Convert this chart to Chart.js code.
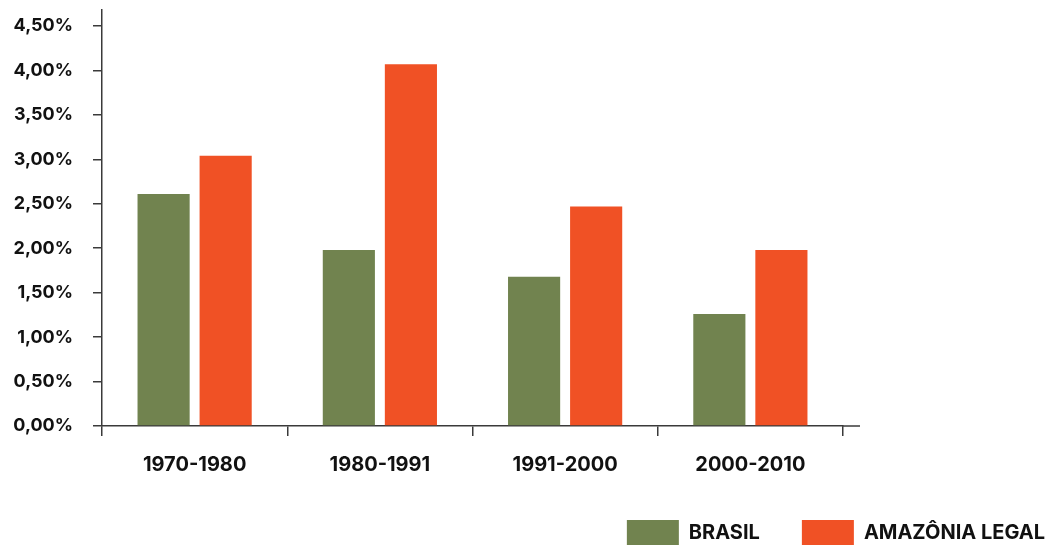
<!DOCTYPE html>
<html lang="pt-BR">
<head>
<meta charset="utf-8">
<title>Taxa de crescimento populacional</title>
<script src="https://cdn.jsdelivr.net/npm/chart.js@4/dist/chart.umd.min.js"></script>
<style>
  html, body { margin: 0; padding: 0; background: #fff; overflow: hidden; }
  #wrap { width: 1087px; height: 556px; position: relative; }
</style>
</head>
<body>
<div id="wrap"><canvas id="chart"></canvas></div>
<script>
// Periods and average annual growth rates (%)
const periods = ['1970-1980', '1980-1991', '1991-2000', '2000-2010'];
const brasil = [2.61, 1.98, 1.68, 1.26];
const amazoniaLegal = [3.04, 4.07, 2.47, 1.98];
const seriesNames = ['BRASIL', 'AMAZÔNIA LEGAL'];
const yTickValues = [0, 0.5, 1, 1.5, 2, 2.5, 3, 3.5, 4, 4.5];

const GREEN = '#71834F';
const ORANGE = '#F05125';
const AXIS = '#3a3a3a';
const TEXT = '#111111';
const Y_FONT = { family: 'Inter', weight: '700', size: 18 };
const X_FONT = { family: 'Inter', weight: '700', size: 20 };

const fmtPct = v => v.toFixed(2).replace('.', ',') + '%';

// Extends the x axis line a little past the last category boundary
const axisTail = {
  id: 'axisTail',
  afterDraw(chart) {
    const { ctx, chartArea } = chart;
    ctx.save();
    ctx.strokeStyle = AXIS;
    ctx.lineWidth = 1.5;
    ctx.beginPath();
    ctx.moveTo(chartArea.right - 1, chartArea.bottom);
    ctx.lineTo(chartArea.right + 17, chartArea.bottom);
    ctx.stroke();
    ctx.restore();
  }
};

new Chart(document.getElementById('chart'), {
  type: 'bar',
  data: {
    labels: periods,
    datasets: [
      { label: seriesNames[0], data: brasil, backgroundColor: GREEN, borderWidth: 0 },
      { label: seriesNames[1], data: amazoniaLegal, backgroundColor: ORANGE, borderWidth: 0 }
    ]
  },
  options: {
    responsive: true,
    maintainAspectRatio: false,
    devicePixelRatio: 1,
    animation: false,
    categoryPercentage: 0.67,
    barPercentage: 0.84,
    layout: { padding: { top: 10, left: 0, right: 0, bottom: 0 } },
    plugins: {
      tooltip: { enabled: false },
      legend: {
        position: 'bottom',
        align: 'end',
        labels: {
          boxWidth: 52,
          boxHeight: 26,
          padding: 42,
          color: TEXT,
          font: X_FONT
        }
      }
    },
    scales: {
      x: {
        grid: { drawOnChartArea: false, tickLength: 10, color: AXIS, lineWidth: 1.5, offset: true },
        border: { color: AXIS, width: 1.5 },
        ticks: { color: TEXT, font: X_FONT, padding: 17, maxRotation: 0 },
        afterFit(s) { s.height = 52; s.paddingLeft = 0; s.paddingRight = 0; }
      },
      y: {
        min: 0,
        max: 4.68,
        afterBuildTicks(s) { s.ticks = yTickValues.map(v => ({ value: v })); },
        grid: { drawOnChartArea: false, tickLength: 9, color: AXIS, lineWidth: 1.5 },
        border: { color: AXIS, width: 1.5 },
        ticks: { color: TEXT, font: Y_FONT, padding: 20, callback: v => fmtPct(v) },
        afterFit(s) { s.width = 102; s.paddingTop = 0; s.paddingBottom = 0; }
      },
      side: {
        type: 'linear',
        position: 'right',
        display: true,
        grid: { display: false },
        border: { display: false },
        ticks: { display: false },
        afterFit(s) { s.width = 244; s.paddingTop = 0; s.paddingBottom = 0; }
      }
    }
  },
  plugins: [axisTail]
});
</script>
</body>
</html>
